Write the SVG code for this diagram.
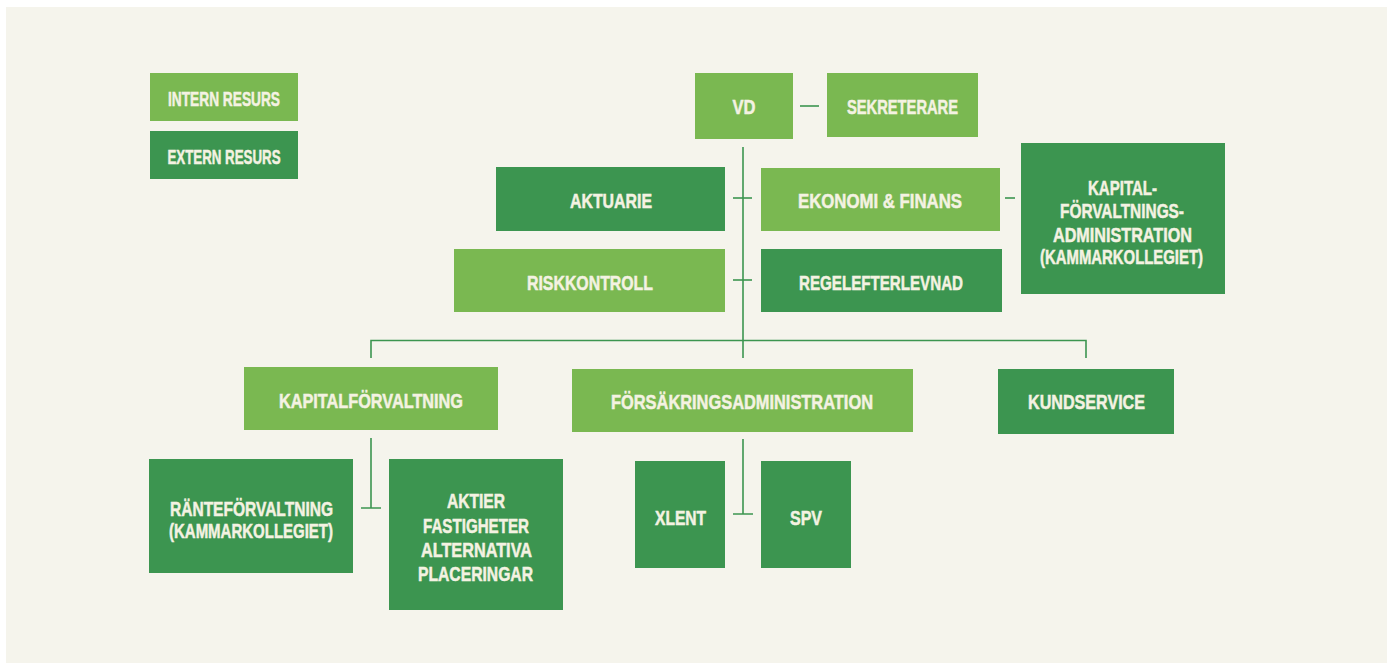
<svg xmlns="http://www.w3.org/2000/svg" width="1387" height="663" viewBox="0 0 1387 663">
<style>
.l{fill:#7ab851}
.d{fill:#3c9550}
text{font-family:"Liberation Sans",Arial,sans-serif;font-weight:bold;font-size:20px;fill:#f4f2e2;stroke:#f4f2e2;stroke-width:0.5;text-anchor:middle}
.c line,.c path{stroke:#3c9550;stroke-width:1.6;fill:none}
</style>
<rect width="1387" height="663" fill="#ffffff"/>
<rect x="6" y="7" width="1381" height="656" fill="#f5f4ec"/>
<g class="c" id="connectors">
<line x1="800" y1="106" x2="819" y2="106"/>
<line x1="743" y1="147" x2="743" y2="358"/>
<line x1="733" y1="198" x2="752" y2="198"/>
<line x1="733" y1="280" x2="752" y2="280"/>
<line x1="1005" y1="198" x2="1015" y2="198"/>
<path d="M371 358V340.5H1086V358"/>
<path d="M371 438V508M361 508H381"/>
<path d="M743 439V514M733 514H753"/>
</g>
<g id="intern"><rect class="l" x="150" y="73" width="148" height="48"/><text x="224" y="106" textLength="112" lengthAdjust="spacingAndGlyphs">INTERN RESURS</text></g>
<g id="extern"><rect class="d" x="150" y="131" width="148" height="48"/><text x="224" y="164" textLength="113" lengthAdjust="spacingAndGlyphs">EXTERN RESURS</text></g>
<g id="vd"><rect class="l" x="695" y="73" width="98" height="66"/><text x="744" y="114" textLength="23" lengthAdjust="spacingAndGlyphs">VD</text></g>
<g id="sekreterare"><rect class="l" x="827" y="73" width="151" height="64"/><text x="902.5" y="114" textLength="111" lengthAdjust="spacingAndGlyphs">SEKRETERARE</text></g>
<g id="aktuarie"><rect class="d" x="496" y="167" width="229" height="64"/><text x="611" y="208" textLength="82" lengthAdjust="spacingAndGlyphs">AKTUARIE</text></g>
<g id="ekonomi"><rect class="l" x="761" y="168" width="239" height="63"/><text x="880" y="208" textLength="164" lengthAdjust="spacingAndGlyphs">EKONOMI &amp; FINANS</text></g>
<g id="kapitalforvaltningsadm"><rect class="d" x="1021" y="143" width="204" height="151"/>
<text x="1122.5" y="195" textLength="69" lengthAdjust="spacingAndGlyphs">KAPITAL-</text>
<text x="1122" y="218" textLength="124" lengthAdjust="spacingAndGlyphs">FÖRVALTNINGS-</text>
<text x="1122.5" y="242" textLength="139" lengthAdjust="spacingAndGlyphs">ADMINISTRATION</text>
<text x="1121.5" y="264" textLength="163" lengthAdjust="spacingAndGlyphs">(KAMMARKOLLEGIET)</text></g>
<g id="riskkontroll"><rect class="l" x="454" y="249" width="271" height="63"/><text x="590" y="290" textLength="126" lengthAdjust="spacingAndGlyphs">RISKKONTROLL</text></g>
<g id="regelefterlevnad"><rect class="d" x="761" y="249" width="241" height="63"/><text x="881" y="290" textLength="164" lengthAdjust="spacingAndGlyphs">REGELEFTERLEVNAD</text></g>
<g id="kapitalforvaltning"><rect class="l" x="244" y="367" width="254" height="63"/><text x="371" y="408" textLength="184" lengthAdjust="spacingAndGlyphs">KAPITALFÖRVALTNING</text></g>
<g id="forsakringsadm"><rect class="l" x="572" y="369" width="341" height="63"/><text x="742" y="409" textLength="262" lengthAdjust="spacingAndGlyphs">FÖRSÄKRINGSADMINISTRATION</text></g>
<g id="kundservice"><rect class="d" x="998" y="369" width="176" height="65"/><text x="1086.5" y="409" textLength="117" lengthAdjust="spacingAndGlyphs">KUNDSERVICE</text></g>
<g id="rantefoervaltning"><rect class="d" x="149" y="459" width="204" height="114"/>
<text x="251.5" y="516" textLength="163" lengthAdjust="spacingAndGlyphs">RÄNTEFÖRVALTNING</text>
<text x="251" y="538" textLength="164" lengthAdjust="spacingAndGlyphs">(KAMMARKOLLEGIET)</text></g>
<g id="aktier"><rect class="d" x="389" y="459" width="174" height="151"/>
<text x="476" y="508" textLength="58" lengthAdjust="spacingAndGlyphs">AKTIER</text>
<text x="476" y="533" textLength="106" lengthAdjust="spacingAndGlyphs">FASTIGHETER</text>
<text x="476.5" y="557" textLength="111" lengthAdjust="spacingAndGlyphs">ALTERNATIVA</text>
<text x="475.5" y="581" textLength="115" lengthAdjust="spacingAndGlyphs">PLACERINGAR</text></g>
<g id="xlent"><rect class="d" x="635" y="461" width="90" height="107"/><text x="680.5" y="525" textLength="51" lengthAdjust="spacingAndGlyphs">XLENT</text></g>
<g id="spv"><rect class="d" x="761" y="461" width="90" height="107"/><text x="806" y="525" textLength="32" lengthAdjust="spacingAndGlyphs">SPV</text></g>
</svg>
